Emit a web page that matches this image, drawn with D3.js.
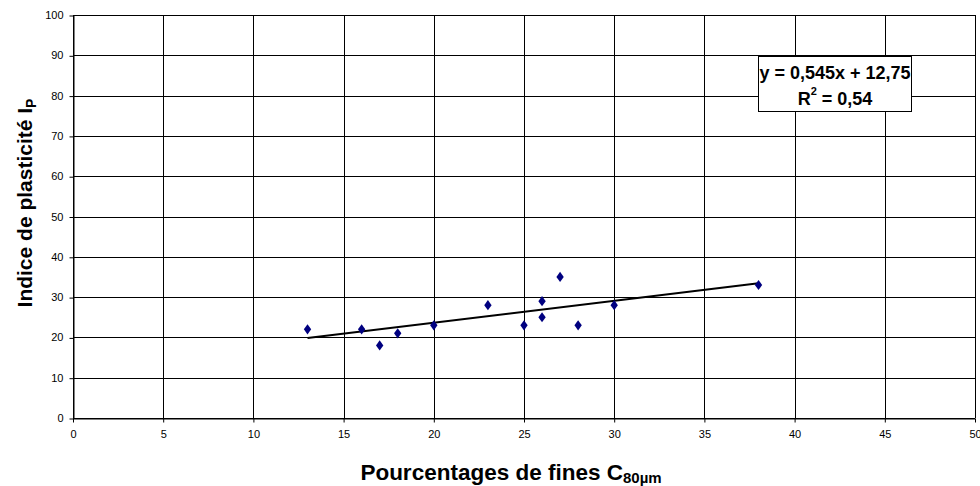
<!DOCTYPE html>
<html>
<head>
<meta charset="utf-8">
<script src="https://cdn.jsdelivr.net/npm/d3@7"></script>
<style>
  body { margin: 0; background: #fff; }
  text { font-family: "Liberation Sans", Arial, sans-serif; }
</style>
</head>
<body>
<div id="chart"></div>
<script>
// Data
var fines = [13, 16, 17, 18, 20, 23, 25, 26, 26, 27, 28, 30, 38];
var plasticite = [22, 22, 18, 21, 23, 28, 23, 29, 25, 35, 23, 28, 33];
var xTicks = [0, 5, 10, 15, 20, 25, 30, 35, 40, 45, 50];
var yTicks = [0, 10, 20, 30, 40, 50, 60, 70, 80, 90, 100];
var slope = 0.545, intercept = 12.75, r2 = "0,54";

var width = 980, height = 486,
    margin = { top: 15, right: 5, bottom: 68, left: 73 };

var svg = d3.select("#chart").append("svg")
    .attr("width", width)
    .attr("height", height);

var chartWidth = width - margin.left - margin.right,
    chartHeight = height - margin.top - margin.bottom;

var x = d3.scaleLinear().domain([0, 50]).range([0, chartWidth]);
var y = d3.scaleLinear().domain([0, 100]).range([chartHeight, 0]);

var g = svg.append("g")
    .attr("transform", "translate(" + margin.left + "," + margin.top + ")");

// Grid
g.selectAll(".vgrid").data(xTicks).enter().append("line")
    .attr("x1", function (d) { return Math.round(x(d)) + 0.5; })
    .attr("x2", function (d) { return Math.round(x(d)) + 0.5; })
    .attr("y1", 0).attr("y2", chartHeight)
    .style("stroke", "#000").style("stroke-width", 1);
g.selectAll(".hgrid").data(yTicks).enter().append("line")
    .attr("y1", function (d) { return Math.round(y(d)) + 0.5; })
    .attr("y2", function (d) { return Math.round(y(d)) + 0.5; })
    .attr("x1", 0).attr("x2", chartWidth)
    .style("stroke", "#000").style("stroke-width", 1);

// Axes
var xAxis = g.append("g")
    .attr("transform", "translate(0," + (Math.round(chartHeight) + 0.5) + ")")
    .call(d3.axisBottom(x).tickValues(xTicks).tickSize(4).tickPadding(8).tickSizeOuter(0));
var yAxis = g.append("g")
    .attr("transform", "translate(0.5,0)")
    .call(d3.axisLeft(y).tickValues(yTicks).tickSize(4).tickPadding(6).tickSizeOuter(0));
[xAxis, yAxis].forEach(function (a) {
    a.selectAll("text").style("font-size", "11px").style("fill", "#000")
        .style("font-family", "'Liberation Sans', Arial, sans-serif");
    a.selectAll("line").style("stroke", "#000");
    a.select(".domain").style("stroke", "#000");
});
yAxis.selectAll(".tick line").attr("transform", "translate(0,0.5)");

// Trend line
var x0 = d3.min(fines), x1 = d3.max(fines);
g.append("line")
    .attr("x1", x(x0)).attr("y1", y(slope * x0 + intercept))
    .attr("x2", x(x1)).attr("y2", y(slope * x1 + intercept))
    .style("stroke", "#000").style("stroke-width", 2);

// Points
g.selectAll(".pt").data(fines).enter().append("path")
    .attr("d", d3.symbol().type(d3.symbolDiamond).size(30))
    .attr("transform", function (d, i) {
        return "translate(" + x(d) + "," + y(plasticite[i]) + ") scale(1.25,1)";
    })
    .style("fill", "#000080");

// Equation box
var box = svg.append("g").attr("transform", "translate(758,56)");
box.append("rect")
    .attr("x", 0.5).attr("y", 0.5).attr("width", 153).attr("height", 55)
    .style("fill", "#fff").style("stroke", "#000").style("stroke-width", 1);
box.append("text")
    .attr("x", 77).attr("y", 23).attr("text-anchor", "middle")
    .style("font-size", "18px").style("font-weight", "bold")
    .text("y = " + String(slope).replace(".", ",") + "x + " + String(intercept).replace(".", ","));
var r = box.append("text")
    .attr("x", 77).attr("y", 49).attr("text-anchor", "middle")
    .style("font-size", "18px").style("font-weight", "bold");
r.append("tspan").text("R");
r.append("tspan").attr("dy", -10).style("font-size", "11px").text("2");
r.append("tspan").attr("dy", 10).text(" = " + r2);

// Axis titles
var xt = svg.append("text")
    .attr("x", 511).attr("y", 480).attr("text-anchor", "middle")
    .style("font-size", "22.5px").style("font-weight", "bold");
xt.append("tspan").text("Pourcentages de fines C");
xt.append("tspan").attr("dy", 3).style("font-size", "15px").text("80µm");

var yt = svg.append("text")
    .attr("transform", "translate(32,203) rotate(-90)")
    .attr("text-anchor", "middle")
    .style("font-size", "21px").style("font-weight", "bold");
yt.append("tspan").text("Indice de plasticité I");
yt.append("tspan").attr("dy", 4).style("font-size", "14px").text("P");
</script>
</body>
</html>
